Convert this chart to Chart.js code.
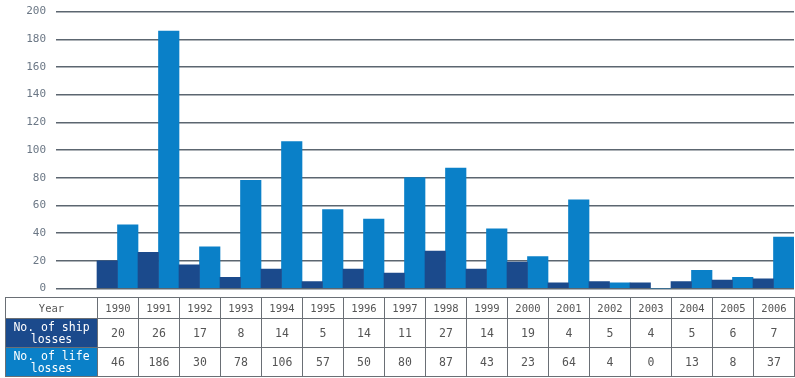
<!DOCTYPE html>
<html>
<head>
<meta charset="utf-8">
<script src="https://cdn.jsdelivr.net/npm/chart.js@4"></script>
<style>
  body { margin: 0; background: #fff; width: 795px; height: 378px; overflow: hidden; position: relative; }
  #lossChart { position: absolute; top: -5px; left: 0; }
  #lossTable {
    position: absolute; top: 297px; left: 5px;
    border-collapse: collapse; table-layout: fixed;
    font-family: "DejaVu Sans Mono", "Liberation Mono", monospace;
    color: #555;
  }
  #lossTable td { border: 1px solid #6a6f75; text-align: center; padding: 0; overflow: hidden; }
  #lossTable tr.yr td { height: 20px; font-size: 10.5px; }
  #lossTable tr.ship td, #lossTable tr.life td { height: 28px; font-size: 11.5px; }
  #lossTable td.head { font-size: 11.5px; line-height: 12px; }
  #lossTable tr.ship td.head { background: #1b4a8c; color: #fff; }
  #lossTable tr.life td.head { background: #0a80c8; color: #fff; }
</style>
</head>
<body>
<canvas id="lossChart" width="795" height="310"></canvas>
<table id="lossTable"></table>
<script>
const years = ['1990', '1991', '1992', '1993', '1994', '1995', '1996', '1997', '1998',
               '1999', '2000', '2001', '2002', '2003', '2004', '2005', '2006'];
const shipLosses = [20, 26, 17, 8, 14, 5, 14, 11, 27, 14, 19, 4, 5, 4, 5, 6, 7];
const lifeLosses = [46, 186, 30, 78, 106, 57, 50, 80, 87, 43, 23, 64, 4, 0, 13, 8, 37];
const rowTitles = ['Year', 'No. of ship<br>losses', 'No. of life<br>losses'];

const darkBlue = '#1b4a8c';
const lightBlue = '#0a80c8';

// empty first slot so the gridlines start left of the bars, above the "Year" column
const labels = [''].concat(years);

const ctx = document.getElementById('lossChart').getContext('2d');
const chart = new Chart(ctx, {
    type: 'bar',
    data: {
        labels: labels,
        datasets: [{
            label: 'No. of ship losses',
            backgroundColor: darkBlue,
            data: [null].concat(shipLosses)
        },
        {
            label: 'No. of life losses',
            backgroundColor: lightBlue,
            data: [null].concat(lifeLosses)
        }]
    },
    options: {
        responsive: false,
        animation: false,
        layout: { padding: { top: 0, right: 1, bottom: 0, left: 0 } },
        plugins: { legend: { display: false }, tooltip: { enabled: false } },
        datasets: { bar: { barPercentage: 1, categoryPercentage: 1 } },
        scales: {
            x: { display: false },
            y: {
                min: 0,
                max: 200,
                afterFit: function(scale) { scale.width = 56; },
                border: { display: false },
                grid: { color: '#5c6670', lineWidth: 1.5, drawTicks: false },
                ticks: {
                    stepSize: 20,
                    padding: 10,
                    color: '#6b7785',
                    font: { family: 'DejaVu Sans Mono', size: 11 }
                }
            }
        }
    }
});

function buildTable() {
    const area = chart.chartArea;
    const colW = (area.right - area.left) / labels.length;
    const firstW = area.left + colW - 5;
    const rows = [years, shipLosses, lifeLosses];
    const classes = ['yr', 'ship', 'life'];
    let html = '<colgroup><col style="width:' + firstW + 'px">';
    years.forEach(() => { html += '<col style="width:' + colW + 'px">'; });
    html += '</colgroup>';
    rows.forEach((row, r) => {
        html += '<tr class="' + classes[r] + '"><td class="head">' + rowTitles[r] + '</td>';
        row.forEach(v => { html += '<td>' + v + '</td>'; });
        html += '</tr>';
    });
    const table = document.getElementById('lossTable');
    table.innerHTML = html;
    table.style.width = (firstW + colW * years.length) + 'px';
}
buildTable();
</script>
</body>
</html>
